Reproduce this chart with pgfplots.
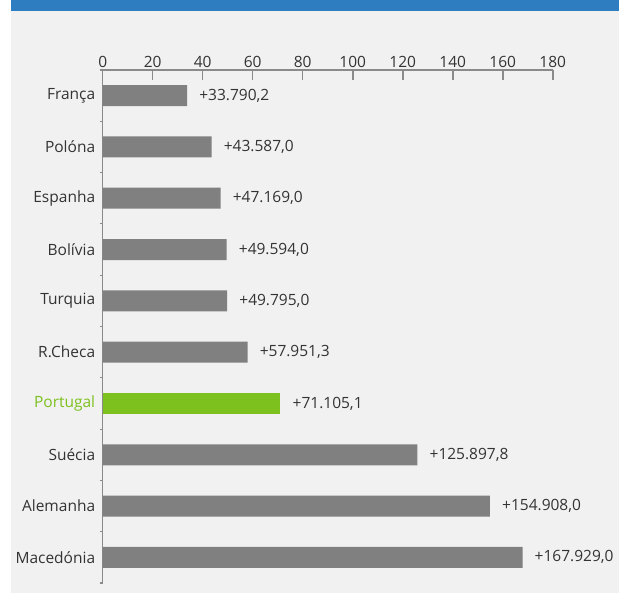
\documentclass[border=0pt]{standalone}
\usepackage{pgfplots}
\usepackage{pgfplotstable}
\pgfplotsset{compat=1.18}
\usetikzlibrary{backgrounds}
\usepackage{fontspec}
\setmainfont{Open Sans}
\definecolor{bgpanel}{HTML}{F1F1F1}
\definecolor{banner}{HTML}{2E7DC1}
\definecolor{bargray}{HTML}{808080}
\definecolor{pgreen}{HTML}{7DC11E}
\definecolor{axgray}{HTML}{8A8A8A}
\definecolor{txt}{HTML}{333333}
\pgfplotstableread{
val idx lab
33.7902 0 +33.790,2
43.587 1 +43.587,0
47.169 2 +47.169,0
49.594 3 +49.594,0
49.795 4 +49.795,0
57.9513 5 +57.951,3
125.8978 7 +125.897,8
154.908 8 +154.908,0
167.929 9 +167.929,0
}\graydata
\pgfplotstableread{
val idx lab
71.1051 6 +71.105,1
}\greendata
\begin{document}
\begin{tikzpicture}
\begin{axis}[
  scale only axis, width=450pt, height=513pt,
  xmin=0, xmax=180, ymin=-0.5, ymax=9.5,
  y dir=reverse,
  axis x line=top, axis y line=left,
  axis line style={-, draw=axgray, line width=1.6pt},
  xtick={0,20,...,180},
  xticklabels={0,20,40,60,80,100,120,140,160,180},
  ytick={0,...,9},
  yticklabels={França,Polóna,Espanha,Bolívia,Turquia,R.Checa,\textcolor{pgreen}{Portugal},Suécia,Alemanha,Macedónia},
  minor ytick={-0.5,0.5,...,9.5},
  tick align=inside,
  major tick length=10pt,
  minor tick length=3pt,
  major y tick style={draw=none},
  minor y tick style={draw=axgray, line width=1.2pt},
  major x tick style={draw=axgray, line width=1.6pt},
  ticklabel style={font=\fontsize{15.5}{18}\selectfont, text=txt},
  xticklabel style={yshift=-1pt},
  yticklabel style={xshift=6pt},
  clip=false,
  xbar, bar width=21pt, bar shift=0pt,
  point meta=explicit symbolic,
  nodes near coords,
  nodes near coords style={anchor=west, inner sep=0pt, xshift=12pt, font=\fontsize{15.5}{18}\selectfont, text=txt},
]
\addplot[fill=bargray, draw=none] table[x=val, y=idx, meta=lab] {\graydata};
\addplot[fill=pgreen, draw=none] table[x=val, y=idx, meta=lab] {\greendata};
\coordinate (tl) at (axis cs:0,-0.5);
\end{axis}
\begin{scope}[on background layer, x=1pt, y=1pt, shift={(tl)}, shift={(-102.7,70)}]
\fill[white] (0,0) rectangle (619,-594);
\fill[bgpanel] (11,-11) rectangle (619,-593);
\fill[banner] (11,0) rectangle (619,-11);
\end{scope}
\pgfresetboundingbox
\path[x=1pt, y=1pt, shift={(tl)}, shift={(-102.7,70)}] (0,0) rectangle (619,-594);
\end{tikzpicture}
\end{document}
